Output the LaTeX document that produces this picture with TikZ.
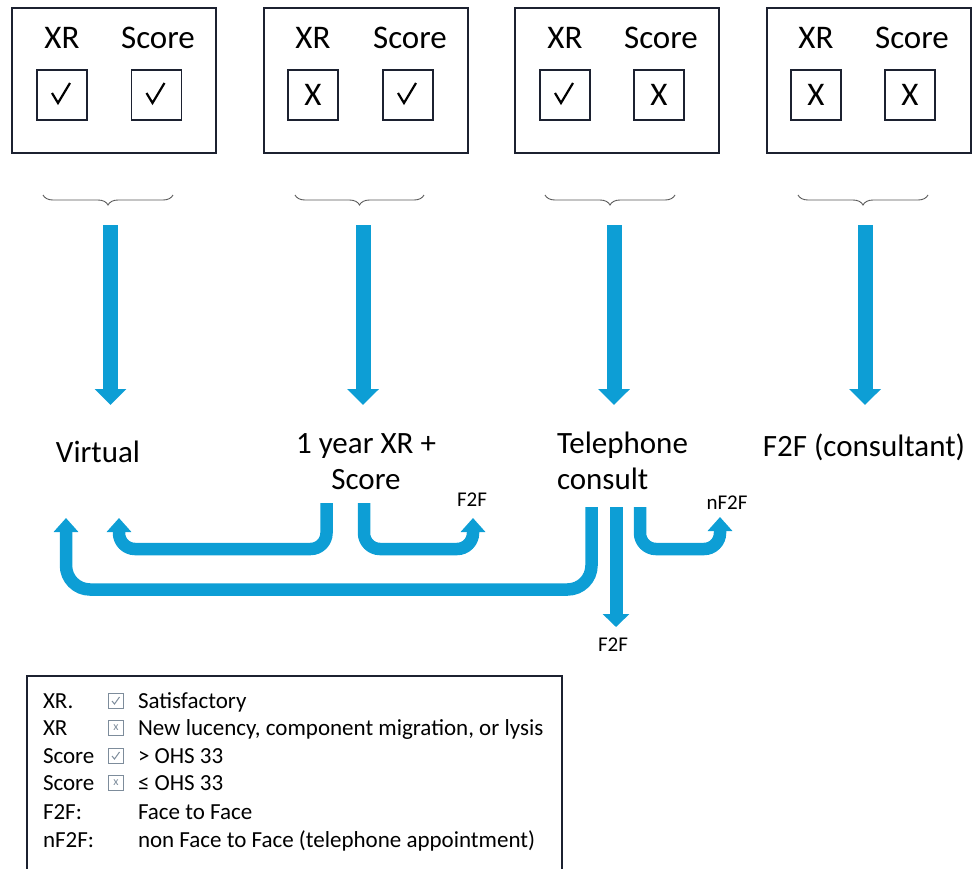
\documentclass[tikz,border=0pt]{standalone}
\usepackage{fontspec}
\setmainfont{Carlito}
\usetikzlibrary{arrows.meta,decorations.pathreplacing}
\definecolor{flowblue}{RGB}{13,158,213}
\definecolor{boxline}{RGB}{28,33,48}
\definecolor{iconline}{RGB}{125,140,155}
\newcommand{\bigcheck}[1]{\draw[checkline] ([shift={(-10,-2)}]#1.center) -- ([shift={(-4,8)}]#1.center) -- ([shift={(8,-12)}]#1.center);}
\newcommand{\smallcheck}[1]{\draw[smallcheckline] ([shift={(-4,0)}]#1.center) -- ([shift={(-1.5,3)}]#1.center) -- ([shift={(3.5,-4)}]#1.center);}
\begin{document}
\begin{tikzpicture}[x=1pt,y=-1pt,
  every node/.style={inner sep=0pt, outer sep=0pt},
  panel/.style={draw=boxline, line width=2.2pt, minimum width=204pt, minimum height=145pt},
  tick/.style={draw=boxline, line width=1.8pt, minimum size=50pt, font=\fontsize{33}{36}\selectfont},
  head/.style={font=\fontsize{33}{36}\selectfont, anchor=base},
  checkline/.style={draw=black, line width=2.2pt},
  smallcheckline/.style={draw=iconline, line width=1pt},
  brc/.style={draw=black!65, line width=0.9pt, decorate, decoration={brace, mirror, amplitude=10pt}},
  bigflow/.style={draw=flowblue, line width=15pt, -{Triangle[width=31pt,length=16pt]}},
  loopflow/.style={draw=flowblue, line width=12.5pt, rounded corners=16pt, -{Triangle[width=24pt,length=14pt]}},
  outcome/.style={font=\fontsize{31}{36}\selectfont, anchor=base},
  small/.style={font=\fontsize{21}{24}\selectfont},
  legtext/.style={font=\fontsize{23}{27}\selectfont, anchor=base west},
  icon/.style={draw=iconline, line width=1pt, minimum size=15pt, fill=white, text=iconline, font=\fontsize{12}{12}\selectfont},
]
\useasboundingbox (0,0) rectangle (976,868);
\clip (0,0) rectangle (976,868);

% ---- decision panels ----
\node[panel, anchor=north west] (p1) at (12,8) {};
\node[panel, anchor=north west] (p2) at (264,8) {};
\node[panel, anchor=north west] (p3) at (515,8) {};
\node[panel, anchor=north west] (p4) at (767,8) {};

\node[head] (h1x) at (62,48) {XR};
\node[head] (h1s) at (158,48) {Score};
\node[head] (h2x) at (313,48) {XR};
\node[head] (h2s) at (410,48) {Score};
\node[head] (h3x) at (565,48) {XR};
\node[head] (h3s) at (661,48) {Score};
\node[head] (h4x) at (816,48) {XR};
\node[head] (h4s) at (912,48) {Score};

\node[tick] (t1x) at (62,95) {};
\node[tick] (t1s) at (156.5,95) {};
\node[tick] (t2x) at (313,95) {X};
\node[tick] (t2s) at (408,95) {};
\node[tick] (t3x) at (565,95) {};
\node[tick] (t3s) at (659,95) {X};
\node[tick] (t4x) at (816,95) {X};
\node[tick] (t4s) at (910,95) {X};
\bigcheck{t1x}
\bigcheck{t1s}
\bigcheck{t2s}
\bigcheck{t3x}

% ---- braces ----
\coordinate (br1a) at (43,195);  \coordinate (br1b) at (173,195);
\coordinate (br2a) at (295,195); \coordinate (br2b) at (424,195);
\coordinate (br3a) at (545,195); \coordinate (br3b) at (675,195);
\coordinate (br4a) at (798,195); \coordinate (br4b) at (928,195);
\draw[brc] (br1a) -- (br1b);
\draw[brc] (br2a) -- (br2b);
\draw[brc] (br3a) -- (br3b);
\draw[brc] (br4a) -- (br4b);

% ---- outcomes ----
\node[outcome] (virtual) at (98,462) {Virtual};
\node[outcome, align=center, anchor=north] (year) at (366,434) {1 year XR +\\Score};
\node[outcome, align=left, anchor=north west] (tel) at (557,432) {Telephone\\consult};
\node[outcome] (cons) at (864,456) {F2F (consultant)};

\node[small] (f2fa) at (472,500) {F2F};
\node[small] (nf2f) at (727,503) {nF2F};
\node[small] (f2fb) at (613,645) {F2F};

% ---- vertical flow arrows ----
\coordinate (s1) at (110.5,225); \coordinate (e1) at (110.5,405);
\coordinate (s2) at (363,225);   \coordinate (e2) at (363,405);
\coordinate (s3) at (614,225);   \coordinate (e3) at (614,405);
\coordinate (s4) at (865,225);   \coordinate (e4) at (865,405);
\draw[bigflow] (s1) -- (e1);
\draw[bigflow] (s2) -- (e2);
\draw[bigflow] (s3) -- (e3);
\draw[bigflow] (s4) -- (e4);

% ---- lower loop arrows ----
\coordinate (ya) at (326.5,503); \coordinate (yb) at (364,503);
\coordinate (ta) at (591.5,507); \coordinate (tb) at (616,507); \coordinate (tc) at (640,507);
\coordinate (va) at (66,518);    \coordinate (vb) at (119,518);
\coordinate (fa) at (473,518);   \coordinate (na) at (720,517);
\coordinate (fb) at (616,627);

\draw[loopflow, rounded corners=24pt] (ta) -- (591.5,589.5) -- (66,589.5) -- (va);
\draw[loopflow] (ya) -- (326.5,549) -- (119,549) -- (vb);
\draw[loopflow] (yb) -- (364,549) -- (473,549) -- (fa);
\draw[loopflow] (tc) -- (640,549) -- (720,549) -- (na);
\draw[draw=flowblue, line width=13pt, -{Triangle[width=26pt,length=13pt]}] (tb) -- (fb);

% ---- legend ----
\node[draw=boxline, line width=1.8pt, anchor=north west, minimum width=535pt, minimum height=230pt] (legend) at (27,676) {};
\node[legtext] (l1a) at (43,708) {XR.};
\node[legtext] (l2a) at (43,735) {XR};
\node[legtext] (l3a) at (43,763) {Score};
\node[legtext] (l4a) at (43,790) {Score};
\node[legtext] (l5a) at (43,819) {F2F:};
\node[legtext] (l6a) at (43,847) {nF2F:};
\node[icon] (i1) at (116,701) {};
\node[icon] (i2) at (116,728) {x};
\node[icon] (i3) at (116,756) {};
\node[icon] (i4) at (116,783) {x};
\smallcheck{i1}
\smallcheck{i3}
\node[legtext] (l1b) at (138,708) {Satisfactory};
\node[legtext] (l2b) at (138,735) {New lucency, component migration, or lysis};
\node[legtext] (l3b) at (138,763) {> OHS 33};
\node[legtext] (l4b) at (138,790) {≤ OHS 33};
\node[legtext] (l5b) at (138,819) {Face to Face};
\node[legtext] (l6b) at (138,847) {non Face to Face (telephone appointment)};
\end{tikzpicture}
\end{document}
